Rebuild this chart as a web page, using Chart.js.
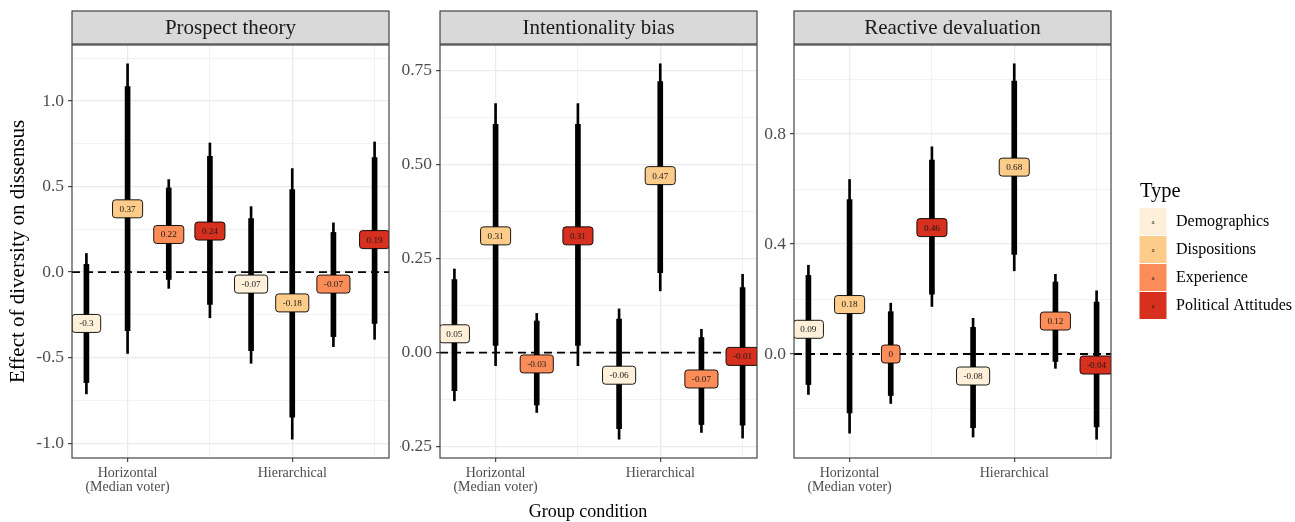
<!DOCTYPE html>
<html>
<head>
<meta charset="utf-8">
<title>Effect of diversity on dissensus</title>
<script src="https://cdn.jsdelivr.net/npm/chart.js@4.4.1/dist/chart.umd.min.js"></script>
<style>
  html, body { margin: 0; padding: 0; background: #fff; }
  #wrap { position: relative; width: 1295px; height: 522px; }
  #wrap canvas { position: absolute; left: 0; top: 0; }
</style>
</head>
<body>
<div id="wrap">
  <canvas id="c1" width="1295" height="522"></canvas>
  <canvas id="c2" width="1295" height="522"></canvas>
  <canvas id="c3" width="1295" height="522"></canvas>
</div>
<script>
// points are ordered: Horizontal x 4 types, then Hierarchical x 4 types
var groups = ['Horizontal\n(Median voter)', 'Hierarchical'];
var types = ['Demographics', 'Dispositions', 'Experience', 'Political Attitudes'];

var prospectEst = [-0.3, 0.37, 0.22, 0.24, -0.07, -0.18, -0.07, 0.19];
var prospectInner = [[-0.646, 0.045], [-0.342, 1.084], [-0.043, 0.492], [-0.189, 0.677],
                     [-0.459, 0.313], [-0.848, 0.482], [-0.377, 0.232], [-0.300, 0.669]];
var prospectOuter = [[-0.712, 0.109], [-0.475, 1.218], [-0.095, 0.541], [-0.267, 0.755],
                     [-0.533, 0.383], [-0.977, 0.605], [-0.436, 0.288], [-0.393, 0.761]];

var intentEst = [0.05, 0.31, -0.03, 0.31, -0.06, 0.47, -0.07, -0.01];
var intentInner = [[-0.101, 0.194], [0.019, 0.606], [-0.139, 0.084], [0.019, 0.606],
                   [-0.202, 0.089], [0.212, 0.720], [-0.191, 0.040], [-0.193, 0.173]];
var intentOuter = [[-0.128, 0.222], [-0.035, 0.661], [-0.159, 0.104], [-0.035, 0.661],
                   [-0.230, 0.116], [0.164, 0.767], [-0.212, 0.062], [-0.227, 0.208]];

var reactiveEst = [0.09, 0.18, 0, 0.46, -0.08, 0.68, 0.12, -0.04];
var reactiveInner = [[-0.111, 0.286], [-0.214, 0.562], [-0.151, 0.154], [0.218, 0.706],
                     [-0.268, 0.097], [0.362, 0.993], [-0.027, 0.262], [-0.265, 0.189]];
var reactiveOuter = [[-0.147, 0.323], [-0.288, 0.635], [-0.180, 0.185], [0.173, 0.754],
                     [-0.302, 0.130], [0.303, 1.056], [-0.052, 0.290], [-0.310, 0.230]];

var prospectTicks = [-1, -0.5, 0, 0.5, 1];
var prospectMinor = [-0.75, -0.25, 0.25, 0.75, 1.25];
var intentTicks = [-0.25, 0, 0.25, 0.5, 0.75];
var intentMinor = [-0.125, 0.125, 0.375, 0.625];
var reactiveTicks = [0, 0.4, 0.8];
var reactiveMinor = [-0.2, 0.2, 0.6, 1.0];

var typeColors = ['#FEF0D9', '#FDCC8A', '#FC8D59', '#D7301F'];
var serif = '"Liberation Serif", "Times New Roman", serif';
Chart.defaults.font.family = serif;

// dodge position of point i on the group axis
function xPos(i) {
    return Math.floor(i / 4) + 1 + (i % 4 - 1) * 0.25;
}
function expand(lo, hi) {
    var d = (hi - lo) * 0.05;
    return [lo - d, hi + d];
}
var xLim = expand(xPos(0), xPos(7));

function roundRect(ctx, x, y, w, h, r) {
    ctx.beginPath();
    ctx.moveTo(x + r, y);
    ctx.lineTo(x + w - r, y);
    ctx.arcTo(x + w, y, x + w, y + r, r);
    ctx.lineTo(x + w, y + h - r);
    ctx.arcTo(x + w, y + h, x + w - r, y + h, r);
    ctx.lineTo(x + r, y + h);
    ctx.arcTo(x, y + h, x, y + h - r, r);
    ctx.lineTo(x, y + r);
    ctx.arcTo(x, y, x + r, y, r);
    ctx.closePath();
}

var panelDecor = {
    id: 'panelDecor',
    afterDatasetsDraw: function (chart) {
        // value labels, clipped to the panel
        var ctx = chart.ctx, a = chart.chartArea;
        var meta = chart.getDatasetMeta(3);
        var vals = chart.data.datasets[3].data;
        ctx.save();
        ctx.beginPath();
        ctx.rect(a.left, a.top, a.right - a.left, a.bottom - a.top);
        ctx.clip();
        ctx.font = '9.2px ' + serif;
        ctx.textAlign = 'center';
        ctx.textBaseline = 'middle';
        meta.data.forEach(function (pt, i) {
            var txt = String(vals[i].y);
            var w = ctx.measureText(txt).width + 14, h = 18;
            roundRect(ctx, pt.x - w / 2, pt.y - h / 2, w, h, 3);
            ctx.fillStyle = typeColors[i % 4];
            ctx.fill();
            ctx.lineWidth = 0.9;
            ctx.strokeStyle = '#000';
            ctx.stroke();
            ctx.fillStyle = '#1a1a1a';
            ctx.fillText(txt, pt.x, pt.y + 0.5);
        });
        ctx.restore();
    },
    afterDraw: function (chart, args, opts) {
        var ctx = chart.ctx, a = chart.chartArea;
        ctx.save();
        ctx.lineWidth = 1.1;
        ctx.strokeStyle = '#333';
        ctx.strokeRect(a.left, a.top, a.right - a.left, a.bottom - a.top);
        // facet strip
        ctx.fillStyle = '#D9D9D9';
        ctx.fillRect(a.left, 11, a.right - a.left, 33);
        ctx.strokeRect(a.left, 11, a.right - a.left, 33);
        ctx.fillStyle = '#1a1a1a';
        ctx.font = '21px ' + serif;
        ctx.textAlign = 'center';
        ctx.textBaseline = 'middle';
        ctx.fillText(opts.title, (a.left + a.right) / 2, 28);
        ctx.restore();
    }
};

var xTitle = {
    id: 'xTitle',
    afterDraw: function (chart) {
        var ctx = chart.ctx;
        ctx.save();
        ctx.fillStyle = '#000';
        ctx.font = '18px ' + serif;
        ctx.textAlign = 'center';
        ctx.textBaseline = 'middle';
        ctx.fillText('Group condition', 588, 512);
        ctx.restore();
    }
};

var typeLegend = {
    id: 'typeLegend',
    afterDraw: function (chart) {
        var ctx = chart.ctx;
        ctx.save();
        ctx.fillStyle = '#000';
        ctx.textAlign = 'left';
        ctx.textBaseline = 'middle';
        ctx.font = '20.5px ' + serif;
        ctx.fillText('Type', 1140, 192);
        types.forEach(function (t, i) {
            var y = 208 + 28 * i;
            ctx.fillStyle = typeColors[i];
            ctx.fillRect(1139.5, y, 27, 27);
            ctx.fillStyle = '#1a1a1a';
            ctx.font = '7px ' + serif;
            ctx.textAlign = 'center';
            ctx.fillText('a', 1153, y + 14);
            ctx.fillStyle = '#000';
            ctx.font = '16px ' + serif;
            ctx.textAlign = 'left';
            ctx.fillText(t, 1176, y + 14);
        });
        ctx.restore();
    }
};

function makePanel(id, title, est, inner, outer, major, minor, dec, box, extra) {
    var lo = Math.min.apply(null, outer.map(function (r) { return r[0]; }));
    var hi = Math.max.apply(null, outer.map(function (r) { return r[1]; }));
    var yLim = expand(lo, hi);
    var isMajorY = function (v) { return major.indexOf(v) >= 0; };
    var isMajorX = function (v) { return v === 1 || v === 2; };
    return new Chart(document.getElementById(id), {
        type: 'bar',
        data: {
            datasets: [{
                type: 'line',
                data: [{ x: xLim[0], y: 0 }, { x: xLim[1], y: 0 }],
                borderColor: '#000',
                borderWidth: 1.8,
                borderDash: [8, 5],
                pointRadius: 0,
                order: 3
            }, {
                data: outer.map(function (r, i) { return { x: xPos(i), y: r }; }),
                backgroundColor: '#000',
                barThickness: 2,
                grouped: false,
                order: 2
            }, {
                data: inner.map(function (r, i) { return { x: xPos(i), y: r }; }),
                backgroundColor: '#000',
                barThickness: 5,
                grouped: false,
                order: 1
            }, {
                type: 'scatter',
                data: est.map(function (v, i) { return { x: xPos(i), y: v }; }),
                pointRadius: 0,
                order: 0
            }]
        },
        options: {
            responsive: false,
            animation: false,
            events: [],
            layout: { padding: { left: box.left, right: 1295 - box.right, top: 45, bottom: 0 } },
            plugins: {
                legend: { display: false },
                tooltip: { enabled: false },
                panelDecor: { title: title }
            },
            scales: {
                x: {
                    type: 'linear',
                    min: xLim[0],
                    max: xLim[1],
                    offset: false,
                    afterBuildTicks: function (s) {
                        s.ticks = [1, 1.5, 2, 2.5].map(function (v) { return { value: v }; });
                    },
                    afterFit: function (s) { s.height = 64; },
                    border: { display: false },
                    grid: {
                        offset: false,
                        color: '#EBEBEB',
                        lineWidth: function (c) { return c.tick && isMajorX(c.tick.value) ? 1.3 : 0.65; },
                        tickColor: function (c) { return c.tick && isMajorX(c.tick.value) ? '#333' : 'rgba(0,0,0,0)'; },
                        tickLength: 4,
                        tickWidth: 1.1
                    },
                    ticks: {
                        autoSkip: false,
                        maxRotation: 0,
                        minRotation: 0,
                        padding: 3.5,
                        color: '#4D4D4D',
                        font: { size: 14, lineHeight: 1.05 },
                        callback: function (v) {
                            var g = groups[v - 1];
                            return g ? g.split('\n') : '';
                        }
                    }
                },
                y: {
                    type: 'linear',
                    min: yLim[0],
                    max: yLim[1],
                    beginAtZero: false,
                    afterBuildTicks: function (s) {
                        s.ticks = major.concat(minor).sort(function (p, q) { return p - q; })
                            .map(function (v) { return { value: v }; });
                    },
                    afterFit: function (s) { s.width = box.yWidth; },
                    border: { display: false },
                    grid: {
                        color: '#EBEBEB',
                        lineWidth: function (c) { return c.tick && isMajorY(c.tick.value) ? 1.3 : 0.65; },
                        tickColor: function (c) { return c.tick && isMajorY(c.tick.value) ? '#333' : 'rgba(0,0,0,0)'; },
                        tickLength: 4,
                        tickWidth: 1.1
                    },
                    ticks: {
                        autoSkip: false,
                        padding: 4,
                        color: '#4D4D4D',
                        font: { size: 17.5 },
                        callback: function (v) { return isMajorY(v) ? v.toFixed(dec) : ''; }
                    },
                    title: box.yTitle ? {
                        display: true,
                        text: box.yTitle,
                        color: '#000',
                        font: { size: 21 },
                        padding: { top: 5.5, bottom: 0 }
                    } : { display: false }
                }
            }
        },
        plugins: [panelDecor].concat(extra || [])
    });
}

makePanel('c1', 'Prospect theory', prospectEst, prospectInner, prospectOuter,
    prospectTicks, prospectMinor, 1,
    { left: 0, right: 389, yWidth: 72, yTitle: 'Effect of diversity on dissensus' });
makePanel('c2', 'Intentionality bias', intentEst, intentInner, intentOuter,
    intentTicks, intentMinor, 2,
    { left: 400, right: 757, yWidth: 40 }, [xTitle]);
makePanel('c3', 'Reactive devaluation', reactiveEst, reactiveInner, reactiveOuter,
    reactiveTicks, reactiveMinor, 1,
    { left: 754, right: 1111, yWidth: 40 }, [typeLegend]);
</script>
</body>
</html>
